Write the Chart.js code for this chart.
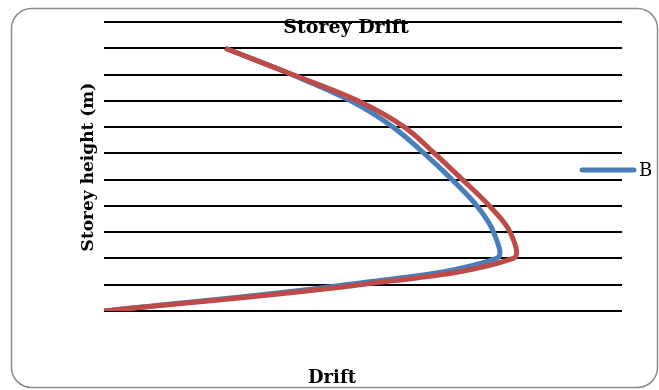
<!DOCTYPE html>
<html>
<head>
<meta charset="utf-8">
<script src="https://cdn.jsdelivr.net/npm/chart.js@4/dist/chart.umd.min.js"></script>
<style>
  html, body { margin: 0; padding: 0; background: #ffffff; }
  #wrap { width: 659px; height: 390px; }
</style>
</head>
<body>
<div id="wrap"><canvas id="c" width="659" height="390"></canvas></div>
<script>
// Storey heights (m) at each floor level
const storeyHeights = [0, 3, 6, 9, 12, 15, 18, 21, 24, 27, 30];
// Inter-storey drift for each series
const driftB = [0, 0.00233, 0.00379, 0.00376, 0.00360, 0.00336, 0.00309, 0.00279, 0.00238, 0.00181, 0.00117];
const driftA = [0, 0.00247, 0.00395, 0.00392, 0.00372, 0.00346, 0.00319, 0.00290, 0.00245, 0.00182, 0.00117];
const seriesNames = ['B', 'A'];
const chartTitle = 'Storey Drift';
const xTitle = 'Drift';
const yTitle = 'Storey height (m)';

const toPoints = (xs) => xs.map((x, i) => ({ x: x, y: storeyHeights[i] }));

const serif = '"DejaVu Serif", "Liberation Serif", serif';

// Frame, titles and legend entry drawn around the plot
const decorations = {
  id: 'decorations',
  beforeDraw(chart) {
    const ctx = chart.ctx;
    ctx.save();
    ctx.fillStyle = '#ffffff';
    ctx.fillRect(0, 0, chart.width, chart.height);
    ctx.strokeStyle = '#8c8c8c';
    ctx.lineWidth = 1.5;
    ctx.beginPath();
    ctx.roundRect(11.5, 8.5, 646, 379, 20);
    ctx.stroke();
    ctx.restore();
  },
  afterDraw(chart) {
    const ctx = chart.ctx;
    ctx.save();
    ctx.fillStyle = '#000000';
    ctx.textAlign = 'center';
    ctx.textBaseline = 'middle';
    ctx.font = 'bold 19px ' + serif;
    ctx.fillText(chartTitle, 346, 28);
    ctx.font = 'bold 18px ' + serif;
    ctx.fillText(xTitle, 332, 378);
    ctx.font = 'bold 17px ' + serif;
    ctx.translate(89, 167);
    ctx.rotate(-Math.PI / 2);
    ctx.fillText(yTitle, 0, 0);
    ctx.restore();

    // legend entry for the first series
    const ds = chart.data.datasets[0];
    ctx.save();
    ctx.strokeStyle = ds.borderColor;
    ctx.lineWidth = 5;
    ctx.lineCap = 'round';
    ctx.beginPath();
    ctx.moveTo(582, 170);
    ctx.lineTo(634, 170);
    ctx.stroke();
    ctx.fillStyle = '#000000';
    ctx.font = '18px ' + serif;
    ctx.textAlign = 'left';
    ctx.textBaseline = 'middle';
    ctx.fillText(ds.label, 639, 171);
    ctx.restore();
  }
};

new Chart(document.getElementById('c'), {
  type: 'scatter',
  data: {
    datasets: [
      {
        label: seriesNames[0],
        data: toPoints(driftB),
        showLine: true,
        borderColor: '#4a7ebb',
        backgroundColor: '#4a7ebb',
        borderWidth: 5,
        pointRadius: 0,
        tension: 0.35,
        order: 1
      },
      {
        label: seriesNames[1],
        data: toPoints(driftA),
        showLine: true,
        borderColor: '#be4b48',
        backgroundColor: '#be4b48',
        borderWidth: 5,
        pointRadius: 0,
        tension: 0.35,
        order: 0
      }
    ]
  },
  options: {
    responsive: false,
    animation: false,
    devicePixelRatio: 1,
    layout: { padding: { left: 104, right: 37, top: 22, bottom: 79 } },
    plugins: {
      legend: { display: false },
      title: { display: false },
      tooltip: { enabled: false }
    },
    scales: {
      x: {
        type: 'linear',
        min: 0,
        max: 0.005,
        ticks: { display: false },
        grid: { display: false, drawTicks: false },
        border: { display: false }
      },
      y: {
        type: 'linear',
        min: 0,
        max: 33,
        ticks: { display: false, stepSize: 3 },
        grid: { color: '#000000', lineWidth: 2, drawTicks: false },
        border: { display: false }
      }
    }
  },
  plugins: [decorations]
});
</script>
</body>
</html>
